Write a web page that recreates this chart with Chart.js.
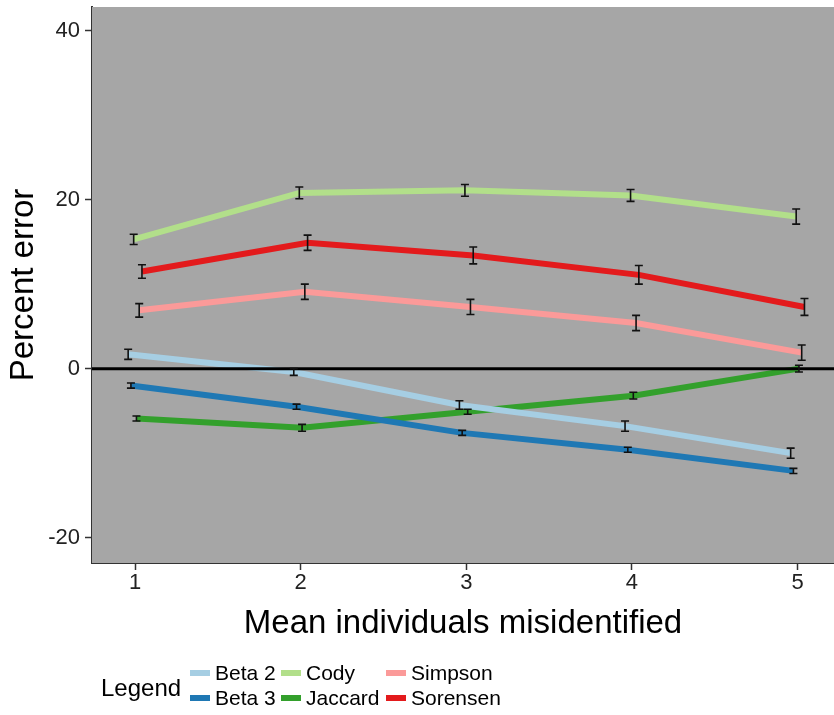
<!DOCTYPE html>
<html>
<head>
<meta charset="utf-8">
<script src="https://cdn.jsdelivr.net/npm/chart.js@4"></script>
<style>
  body { margin: 0; background: #fff; }
  canvas { display: block; }
</style>
</head>
<body>
<canvas id="errChart" width="834" height="715"></canvas>
<script>
// data
const misidentified = [1, 2, 3, 4, 5];
const seriesNames = ["Beta 2", "Beta 3", "Cody", "Jaccard", "Simpson", "Sorensen"];
const seriesColors = ["#a6cee3", "#1f78b4", "#b2df8a", "#33a02c", "#fb9a99", "#e31a1c"];

const beta2 = [1.7, -0.4, -4.3, -6.8, -10.0];
const beta3 = [-2.0, -4.5, -7.6, -9.6, -12.1];
const cody = [15.3, 20.8, 21.1, 20.5, 18.0];
const jaccard = [-5.9, -7.0, -5.1, -3.2, 0.0];
const simpson = [6.9, 9.1, 7.3, 5.4, 1.9];
const sorensen = [11.5, 14.9, 13.4, 11.1, 7.3];

// standard errors
const beta2Err = [0.6, 0.4, 0.5, 0.6, 0.6];
const beta3Err = [0.3, 0.3, 0.3, 0.3, 0.3];
const codyErr = [0.6, 0.7, 0.7, 0.7, 0.9];
const jaccardErr = [0.3, 0.4, 0.3, 0.4, 0.4];
const simpsonErr = [0.8, 0.9, 0.9, 0.9, 0.9];
const sorensenErr = [0.8, 0.9, 1.0, 1.1, 1.0];

const yTicks = [-20, 0, 20, 40];

const means = [beta2, beta3, cody, jaccard, simpson, sorensen];
const errors = [beta2Err, beta3Err, codyErr, jaccardErr, simpsonErr, sorensenErr];

// small horizontal dodge like position_dodge(0.1)
const dodge = (i) => (i - (seriesNames.length - 1) / 2) * (0.1 / seriesNames.length);

const datasets = seriesNames.map((name, i) => ({
  label: name,
  data: misidentified.map((x, j) => ({ x: x + dodge(i), y: means[i][j], err: errors[i][j] })),
  borderColor: seriesColors[i],
  backgroundColor: seriesColors[i],
  borderWidth: 6,
  pointRadius: 0,
  tension: 0,
}));

const font = "'Liberation Sans', Arial, sans-serif";

// gray panel, zero line, error bars, legend
const extras = {
  id: "extras",
  beforeDatasetsDraw(chart) {
    const { ctx, chartArea: a } = chart;
    ctx.save();
    ctx.fillStyle = "#a6a6a6";
    ctx.fillRect(a.left, a.top, a.right - a.left, a.bottom - a.top);
    ctx.restore();
  },
  afterDatasetsDraw(chart) {
    const { ctx, chartArea: a, scales: { x, y } } = chart;
    ctx.save();
    // zero line
    ctx.strokeStyle = "#000";
    ctx.lineWidth = 3;
    ctx.beginPath();
    ctx.moveTo(a.left, y.getPixelForValue(0));
    ctx.lineTo(a.right, y.getPixelForValue(0));
    ctx.stroke();
    // error bars
    ctx.lineWidth = 1.6;
    ctx.strokeStyle = "#111";
    chart.data.datasets.forEach((ds) => {
      ds.data.forEach((p) => {
        const px = x.getPixelForValue(p.x);
        const hi = y.getPixelForValue(p.y + p.err);
        const lo = y.getPixelForValue(p.y - p.err);
        ctx.beginPath();
        ctx.moveTo(px, hi); ctx.lineTo(px, lo);
        ctx.moveTo(px - 4, hi); ctx.lineTo(px + 4, hi);
        ctx.moveTo(px - 4, lo); ctx.lineTo(px + 4, lo);
        ctx.stroke();
      });
    });
    ctx.restore();
  },
  afterDraw(chart) {
    const { ctx } = chart;
    ctx.save();
    ctx.fillStyle = "#000";
    ctx.textBaseline = "middle";
    ctx.font = "24px " + font;
    ctx.fillText("Legend", 101, 689);
    ctx.font = "21px " + font;
    const cols = [190, 281, 386];
    const rows = [673, 698];
    seriesNames.forEach((name, i) => {
      const cx = cols[Math.floor(i / 2)];
      const cy = rows[i % 2];
      ctx.fillStyle = seriesColors[i];
      ctx.fillRect(cx, cy - 3, 20, 6);
      ctx.fillStyle = "#000";
      ctx.fillText(name, cx + 25, cy + 1);
    });
    ctx.restore();
  },
};

new Chart(document.getElementById("errChart"), {
  type: "line",
  data: { datasets },
  plugins: [extras],
  options: {
    responsive: false,
    animation: false,
    layout: { padding: { top: 7, right: 0, left: 0, bottom: 67 } },
    plugins: { legend: { display: false }, tooltip: { enabled: false } },
    scales: {
      x: {
        type: "linear",
        min: 0.74,
        max: 5.22,
        afterBuildTicks: (s) => { s.ticks = misidentified.map((v) => ({ value: v })); },
        afterFit: (s) => { s.height = 85; s.paddingLeft = 0; s.paddingRight = 0; },
        ticks: { color: "#222", font: { family: font, size: 22 }, padding: 0, callback: (v) => v },
        grid: { drawOnChartArea: false, drawTicks: true, tickLength: 7, color: "#333", tickWidth: 1.5 },
        border: { display: true, color: "#333", width: 2 },
        title: { display: true, text: "Mean individuals misidentified", color: "#000",
                 font: { family: font, size: 33 }, padding: { top: 0, bottom: 4 } },
      },
      y: {
        min: -23,
        max: 42.8,
        afterBuildTicks: (s) => { s.ticks = yTicks.map((v) => ({ value: v })); },
        afterFit: (s) => { s.width = 92; s.paddingTop = 0; s.paddingBottom = 0; },
        ticks: { color: "#222", font: { family: font, size: 22 }, padding: 5, callback: (v) => v },
        grid: { drawOnChartArea: false, drawTicks: true, tickLength: 7, color: "#333", tickWidth: 1.5 },
        border: { display: true, color: "#333", width: 2 },
        title: { display: true, text: "Percent error", color: "#000",
                 font: { family: font, size: 33 }, padding: { top: 4, bottom: 0 } },
      },
    },
  },
});
</script>
</body>
</html>
